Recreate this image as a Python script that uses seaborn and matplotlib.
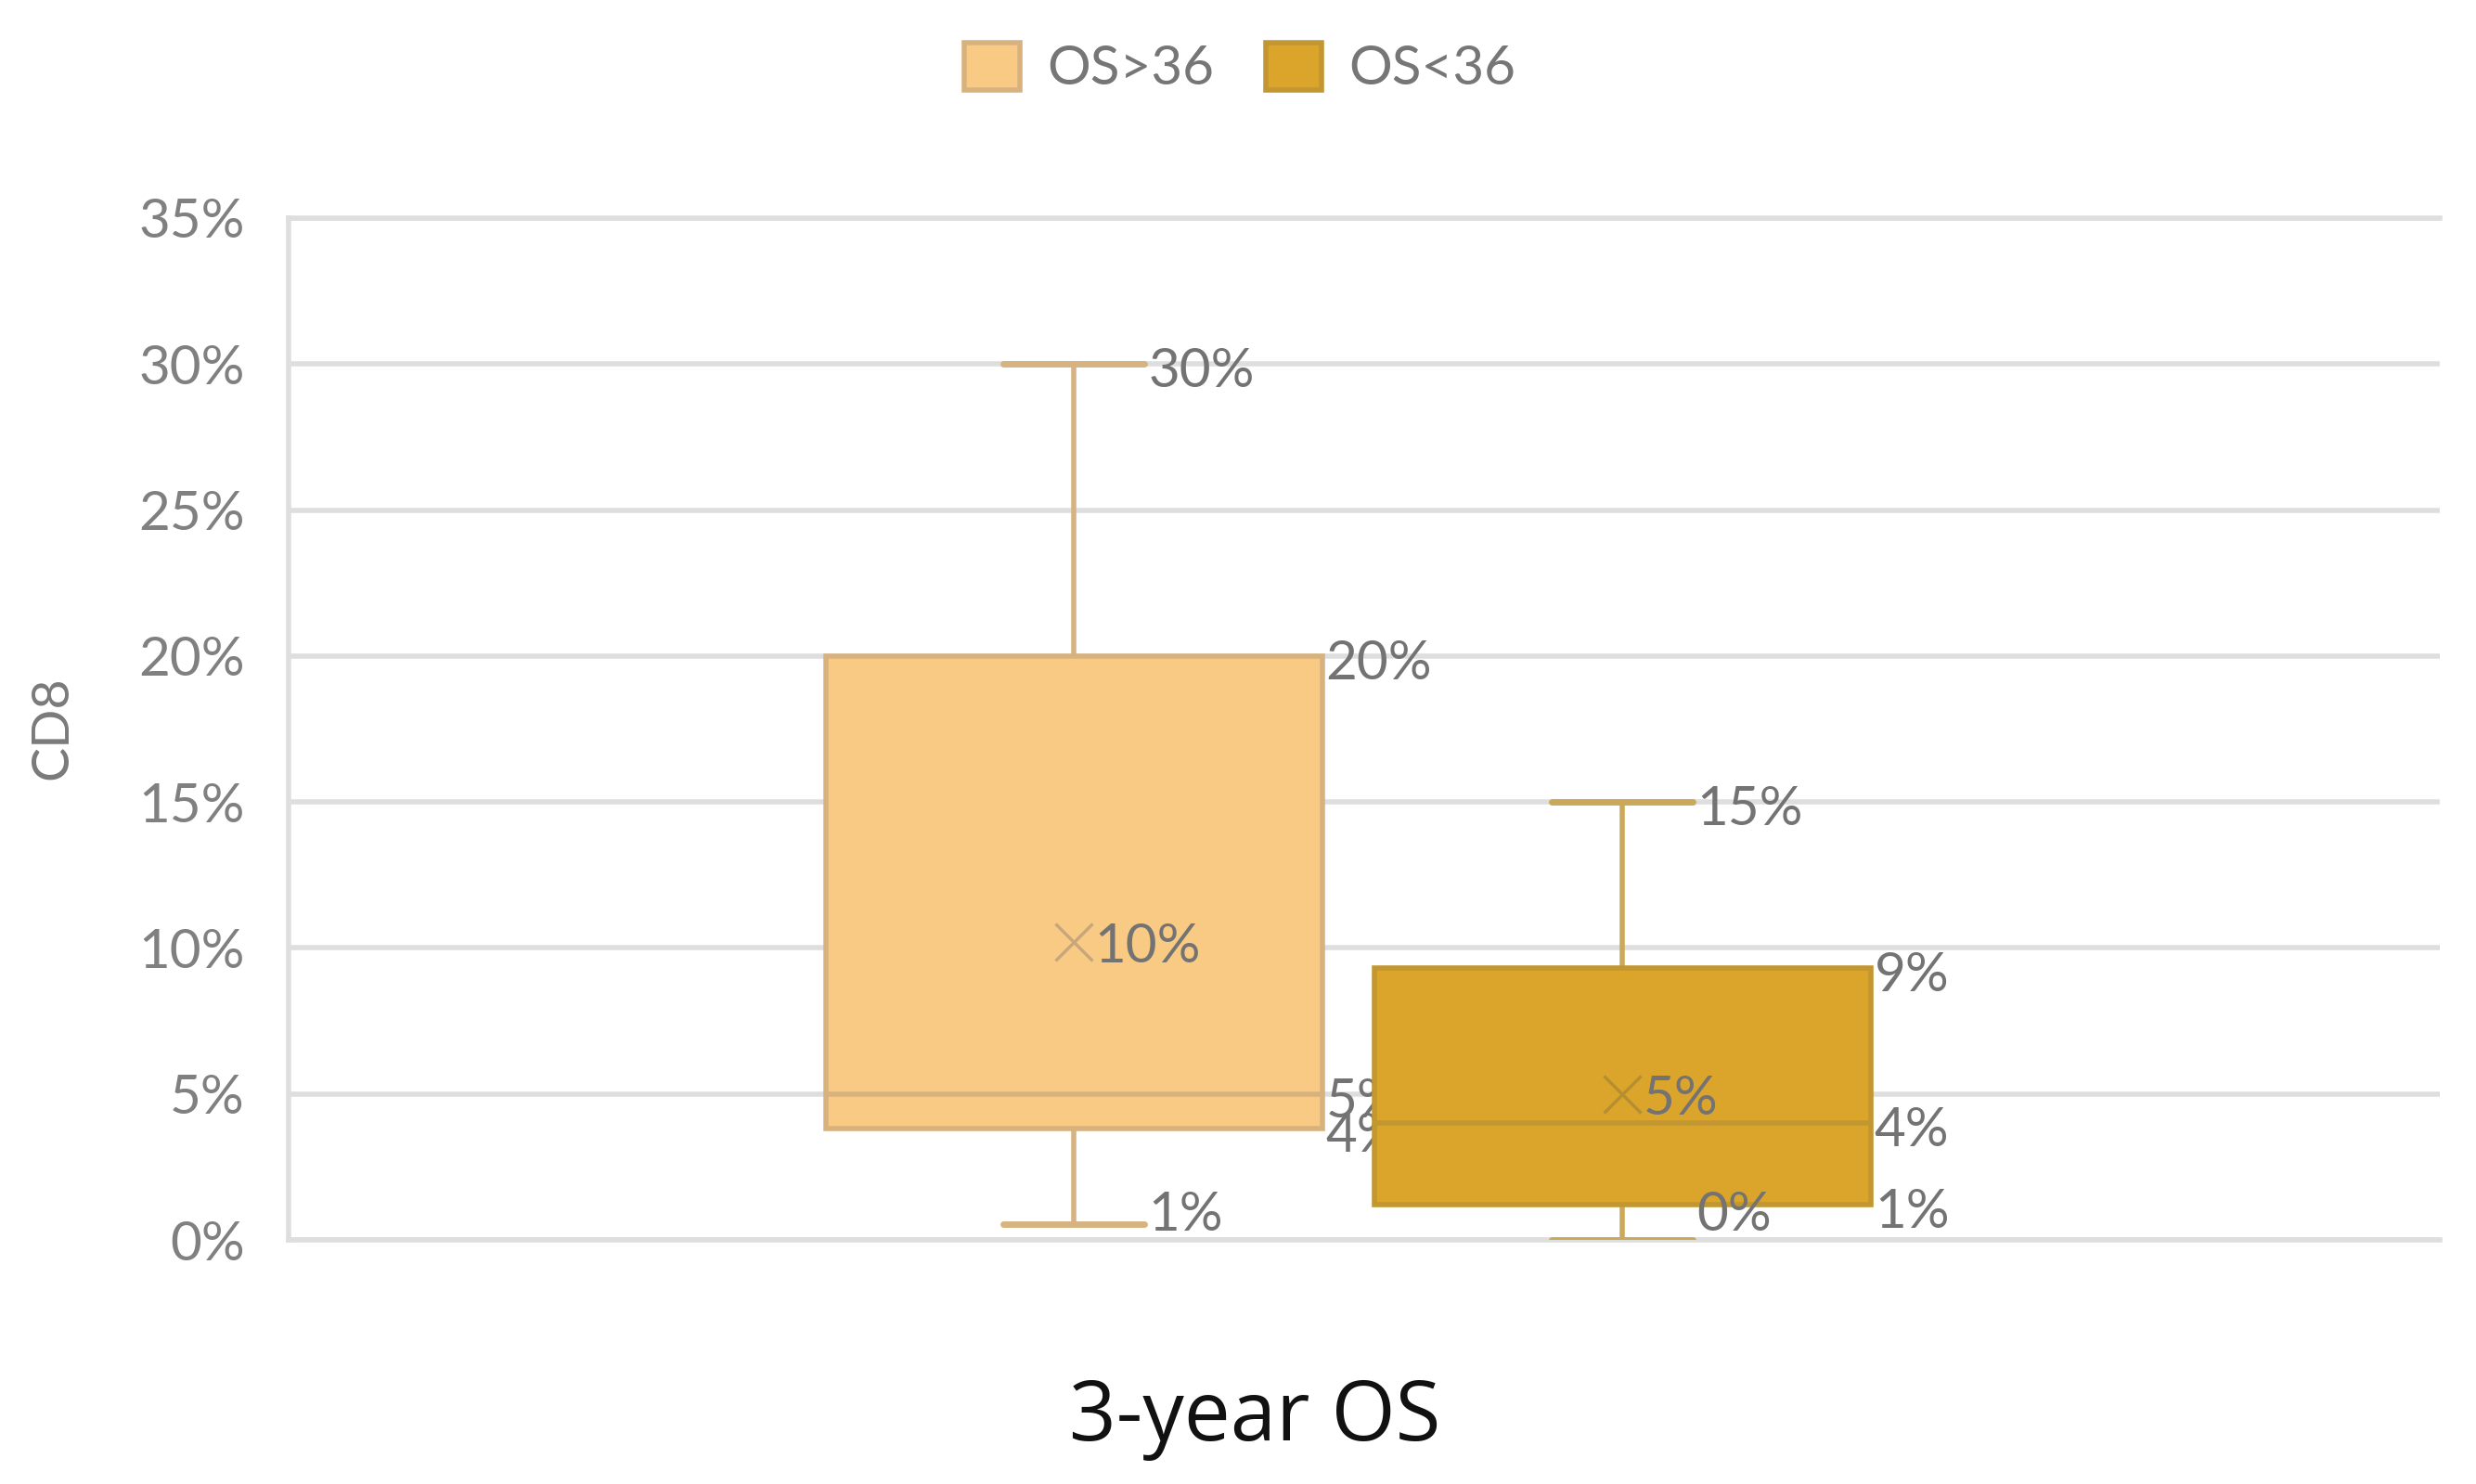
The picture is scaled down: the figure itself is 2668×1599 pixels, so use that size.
import matplotlib
matplotlib.use("Agg")
import matplotlib.pyplot as plt
from matplotlib.patches import Patch
import seaborn as sns
import pandas as pd

# ---------------- data ----------------
category = "3-year OS"
groups = ["OS>36", "OS<36"]
# five-number summaries in %: minimum, Q1, median, Q3, maximum
summary_os_gt36 = [0.55, 3.8, 5.0, 20.0, 30.0]
summary_os_lt36 = [0.0, 1.2, 4.0, 9.3, 15.0]
group_means = [10.2, 5.0]
y_ticks = [0, 5, 10, 15, 20, 25, 30, 35]
y_tick_labels = ["0%", "5%", "10%", "15%", "20%", "25%", "30%", "35%"]
x_title = "3-year OS"
y_title = "CD8"

# ---------------- style ----------------
fill_colors = ["#F9CA84", "#DBA52B"]
edge_colors = ["#D8B27E", "#C29631"]
whisker_colors = ["#D7B381", "#CCA95A"]
mean_colors = ["#C8A67A", "#B48E33"]
grid_color = "#DEDEDE"
label_color = "#737373"
tick_color = "#808080"

df = pd.DataFrame({
    "category": [category] * (len(summary_os_gt36) + len(summary_os_lt36)),
    "group": [groups[0]] * len(summary_os_gt36) + [groups[1]] * len(summary_os_lt36),
    "value": summary_os_gt36 + summary_os_lt36,
})
summaries = [summary_os_gt36, summary_os_lt36]

sns.set_style("white")
plt.rcParams["font.family"] = ["Lato", "DejaVu Sans"]

fig = plt.figure(figsize=(26.68, 15.99), dpi=100)
ax = fig.add_axes([311 / 2668, 1 - 1336 / 1599, 2318 / 2668, 1101 / 1599])

sns.boxplot(data=df, x="category", y="value", hue="group", hue_order=groups,
            palette=fill_colors, width=0.51, gap=0.095, whis=(0, 100),
            showfliers=False, linewidth=4, dodge=True, legend=False, ax=ax)

lw = 4
label_floor = 1.1
for i, cont in enumerate(ax.containers):
    z = 2 + 2 * i
    box = cont.boxes[0]
    box.set_facecolor(fill_colors[i])
    box.set_edgecolor(edge_colors[i])
    box.set_linewidth(lw)
    box.set_zorder(z)
    verts = box.get_path().vertices
    x0, x1 = verts[:, 0].min(), verts[:, 0].max()
    xc = (x0 + x1) / 2
    cap_half = 0.285 * (x1 - x0) / 2
    for ln in cont.whiskers:
        ln.set_color(whisker_colors[i]); ln.set_linewidth(lw); ln.set_zorder(z - 0.1)
    for ln in cont.caps:
        ln.set_color(whisker_colors[i]); ln.set_linewidth(lw + 1); ln.set_zorder(z - 0.1)
        ln.set_xdata([xc - cap_half, xc + cap_half])
    for ln in cont.medians:
        ln.set_color(edge_colors[i]); ln.set_linewidth(lw); ln.set_zorder(z + 0.1)

    s = summaries[i]
    cap_right = xc + cap_half
    items = [
        (cap_right, s[4]),
        (x1, s[3]),
        (x1, s[2]),
        (x1, s[1]),
        (cap_right, max(s[0], label_floor)),
    ]
    vals = [s[4], s[3], s[2], s[1], s[0]]
    for (xx, yy), v in zip(items, vals):
        ax.annotate(f"{v:.0f}%", xy=(xx, yy), xytext=(3, -6), textcoords="offset points",
                    ha="left", va="center", fontsize=42, color=label_color, zorder=z + 0.5)
    ax.plot([xc], [group_means[i]], marker="x", markersize=29, markeredgewidth=2.4,
            color=mean_colors[i], linestyle="none", zorder=z + 0.3)
    ax.annotate(f"{group_means[i]:.0f}%", xy=(xc, group_means[i]), xytext=(16, -4),
                textcoords="offset points", ha="left", va="center", fontsize=42,
                color=label_color, zorder=z + 0.5)

ax.set_xlim(-0.4925, 0.5075)
ax.set_ylim(0, 35)
ax.set_yticks(y_ticks)
ax.set_yticklabels(y_tick_labels)
ax.set_xticks([])
ax.set_xlabel("")
ax.set_ylabel("")
ax.tick_params(axis="y", length=0, pad=34, labelsize=42, labelcolor=tick_color)
ax.yaxis.grid(True, color=grid_color, linewidth=4)
ax.set_axisbelow(True)
for side in ["left", "bottom", "top"]:
    ax.spines[side].set_visible(True)
    ax.spines[side].set_color(grid_color)
    ax.spines[side].set_linewidth(4)
ax.spines["right"].set_visible(False)

handles = [Patch(facecolor=fill_colors[i], edgecolor=edge_colors[i], linewidth=4)
           for i in range(len(groups))]
fig.legend(handles, groups, loc="center", bbox_to_anchor=(0.5007, 0.954), ncol=2,
           frameon=False, fontsize=42, handlelength=1.03, handleheight=0.97,
           handletextpad=0.5, columnspacing=0.95, labelcolor="#767676", borderpad=0)

fig.text(1352 / 2668, 1 - 1552 / 1599, x_title, ha="center", va="baseline",
         fontsize=64, family=["Open Sans", "DejaVu Sans"], color="#111111")
fig.text(57 / 2668, 1 - 784 / 1599, y_title, rotation=90, ha="center", va="center",
         fontsize=40, color="#7a7a7a")

fig.savefig("out.png", dpi=100)
